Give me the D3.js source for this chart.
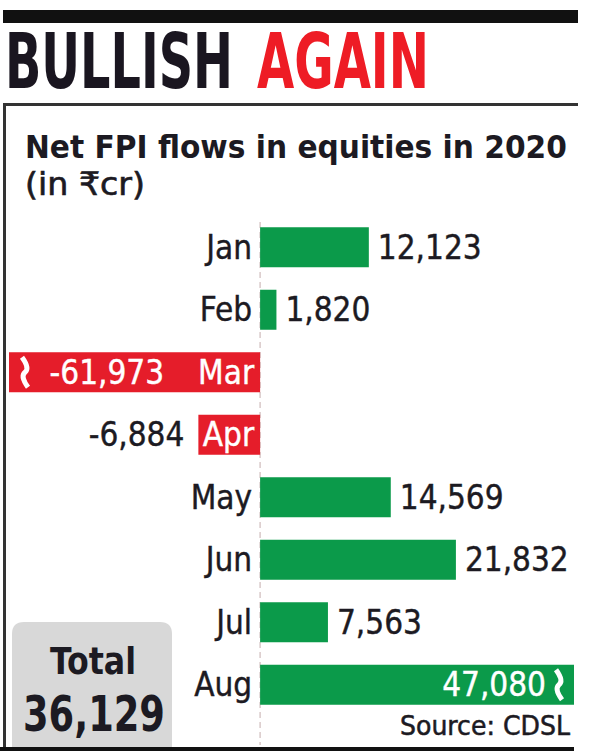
<!DOCTYPE html>
<html>
<head>
<meta charset="utf-8">
<script src="https://cdn.jsdelivr.net/npm/d3@7"></script>
<style>
  body { margin: 0; background: #fff; }
  text { font-family: "DejaVu Sans Condensed", "DejaVu Sans", sans-serif; }
</style>
</head>
<body>
<div id="chart"></div>
<script>
// data
var months = ["Jan", "Feb", "Mar", "Apr", "May", "Jun", "Jul", "Aug"];
var flows = [12123, 1820, -61973, -6884, 14569, 21832, 7563, 47080];
var totalLabel = "36,129";

var width = 600, height = 753;
var green = "#0b9a4a", red = "#e51d2a", ink = "#1c1a22";

var svg = d3.select("#chart").append("svg")
  .attr("width", width).attr("height", height);

// squeeze a text horizontally to a given width (keeps its height)
function fit(sel, x, y, w, anchor) {
  var n = sel.node().getComputedTextLength();
  var sx = w / n;
  var x0 = anchor === "middle" ? x - w / 2 : (anchor === "end" ? x - w : x);
  sel.attr("x", 0).attr("y", 0)
    .attr("transform", "translate(" + x0 + "," + y + ") scale(" + sx + ",1)");
  return sel;
}

// frame
svg.append("rect").attr("x", 3).attr("y", 10).attr("width", 575).attr("height", 13).attr("fill", "#111");
svg.append("rect").attr("x", 3).attr("y", 103).attr("width", 575).attr("height", 3).attr("fill", "#333");
svg.append("rect").attr("x", 3).attr("y", 103).attr("width", 3).attr("height", 647).attr("fill", "#333");
svg.append("rect").attr("x", 0).attr("y", 747).attr("width", 574).attr("height", 4).attr("fill", "#111");

// title
fit(svg.append("text").attr("font-size", 76).attr("font-weight", "bold").attr("fill", "#1a1620")
  .text("BULLISH"), 5, 88, 228);
fit(svg.append("text").attr("font-size", 76).attr("font-weight", "bold").attr("fill", "#ee1c25")
  .text("AGAIN"), 257, 88, 172);

fit(svg.append("text").attr("font-size", 32).attr("font-weight", "bold").attr("fill", ink)
  .text("Net FPI flows in equities in 2020"), 25, 158, 542);
fit(svg.append("text").attr("font-size", 32).attr("fill", ink)
  .attr("stroke", ink).attr("stroke-width", 0.6)
  .text("(in ₹cr)"), 25, 195, 120);

// scales
var x = d3.scaleLinear().domain([-28000, 35000]).range([9, 574]).clamp(true);
var y = d3.scaleBand().domain(months).range([216, 716]).paddingInner(0.36).paddingOuter(0.18);

var x0 = x(0);
var lo = x.domain()[0], hi = x.domain()[1];
var fmt = function(v) { return d3.format(",")(v).replace("−", "-"); };

var rowsData = months.map(function(m, i) { return { month: m, value: flows[i] }; });

// zero line
svg.append("line").attr("x1", x0).attr("x2", x0).attr("y1", 222).attr("y2", 745)
  .attr("stroke", "#d9c9c9").attr("stroke-width", 1.5).attr("stroke-dasharray", "6,4");

var rows = svg.selectAll("g.row").data(rowsData).enter().append("g").attr("class", "row");

rows.append("rect")
  .attr("x", function(d) { return Math.min(x(d.value), x0); })
  .attr("y", function(d) { return y(d.month); })
  .attr("width", function(d) { return Math.abs(x(d.value) - x0); })
  .attr("height", y.bandwidth())
  .attr("fill", function(d) { return d.value < 0 ? red : green; });

// break marks on clipped bars
rows.filter(function(d) { return d.value < lo || d.value > hi; })
  .append("path")
  .attr("d", function(d) {
    var bx = d.value < 0 ? x(d.value) + 16 : x(d.value) - 15;
    var t = y(d.month) + 5, b = y(d.month) + y.bandwidth() - 5, m = (t + b) / 2;
    return "M" + (bx - 3) + "," + t + " Q" + (bx + 5) + "," + (m - 4) + " " + bx + "," + m +
      " Q" + (bx - 5) + "," + (m + 4) + " " + (bx + 3) + "," + b;
  })
  .attr("fill", "none").attr("stroke", "#fff").attr("stroke-width", 5);

// month labels
rows.append("text")
  .attr("x", function(d) { return d.value < 0 ? x0 - 6 : x0 - 8; })
  .attr("y", function(d) { return y(d.month) + y.bandwidth() / 2; })
  .attr("dy", "0.35em").attr("text-anchor", "end")
  .attr("font-size", 33)
  .attr("stroke-width", 0.4)
  .attr("fill", function(d) { return d.value < 0 ? "#fff" : ink; })
  .attr("stroke", function(d) { return d.value < 0 ? "#fff" : ink; })
  .text(function(d) { return d.month; });

// value labels
rows.append("text")
  .attr("x", function(d) {
    if (d.value > hi) return x(d.value) - 28;
    if (d.value < lo) return x0 - 96;
    if (d.value < 0) return x(d.value) - 14;
    return x(d.value) + 9;
  })
  .attr("y", function(d) { return y(d.month) + y.bandwidth() / 2; })
  .attr("dy", "0.35em")
  .attr("text-anchor", function(d) { return d.value < 0 || d.value > hi ? "end" : "start"; })
  .attr("font-size", 33)
  .attr("stroke-width", 0.4)
  .attr("fill", function(d) { return (d.value < lo || d.value > hi) ? "#fff" : ink; })
  .attr("stroke", function(d) { return (d.value < lo || d.value > hi) ? "#fff" : ink; })
  .text(function(d) { return fmt(d.value); });

// total box
svg.append("path")
  .attr("d", "M12,747 L12,634 Q12,622 24,622 L160,622 Q172,622 172,634 L172,747 Z")
  .attr("fill", "#d8d8d8");
fit(svg.append("text").attr("font-size", 38).attr("font-weight", "bold").attr("fill", ink)
  .text("Total"), 93, 674, 86, "middle");
fit(svg.append("text").attr("font-size", 50).attr("font-weight", "bold").attr("fill", ink)
  .text(totalLabel), 94, 731, 142, "middle");

fit(svg.append("text").attr("font-size", 26).attr("fill", ink)
  .attr("stroke", ink).attr("stroke-width", 0.5)
  .text("Source: CDSL"), 570, 735, 170, "end");
</script>
</body>
</html>
